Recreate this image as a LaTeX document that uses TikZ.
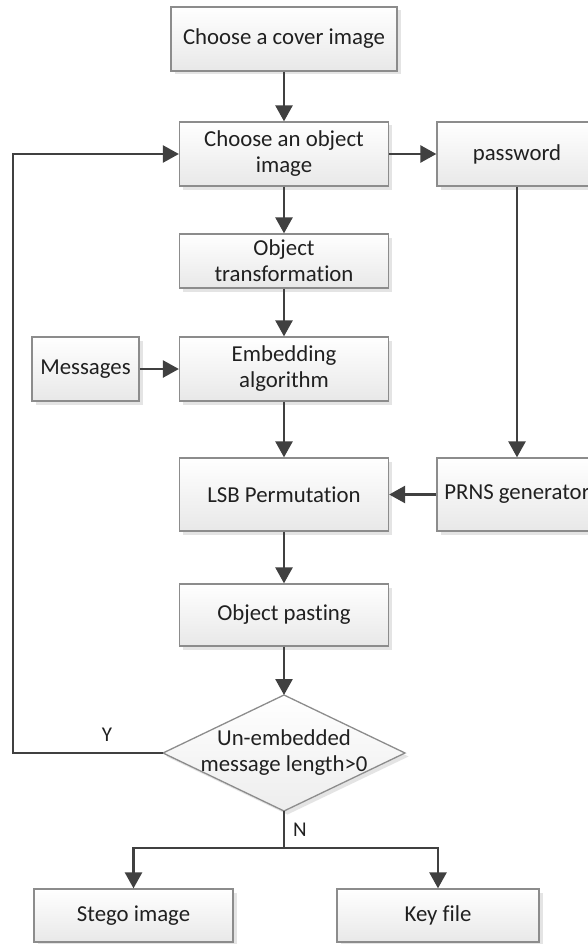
\documentclass[tikz,border=0pt]{standalone}
\usepackage{fontspec}
\setmainfont{Carlito}[Ligatures=NoCommon]
\usetikzlibrary{arrows.meta,shadows}
\definecolor{linec}{HTML}{404040}
\definecolor{boxline}{HTML}{8C8C8C}
\definecolor{txt}{HTML}{202020}
\tikzset{
  flowbox/.style={rectangle, draw=boxline, line width=1.3pt, top color=white, bottom color=black!9,
    inner sep=0pt, align=center, text=txt, font=\fontsize{22.8}{26}\selectfont,
    drop shadow={shadow xshift=3.5pt, shadow yshift=-3.5pt, opacity=0.3, fill=black!35}},
  decshape/.style={draw=boxline, line width=1.3pt, top color=white, bottom color=black!7,
    drop shadow={shadow xshift=3.5pt, shadow yshift=-3.5pt, opacity=0.3, fill=black!35}},
  dectext/.style={align=center, text=txt, font=\fontsize{22.8}{26}\selectfont, inner sep=0pt},
  lab/.style={text=txt, font=\fontsize{21}{24}\selectfont, inner sep=0pt},
  conn/.style={draw=linec, line width=2.6pt, -{Triangle[length=16pt,width=17pt]}},
  plainline/.style={draw=linec, line width=2.6pt},
}
\begin{document}
\begin{tikzpicture}[x=1pt,y=-1pt]
\clip (0,0) rectangle (588,944);
\fill[white] (0,0) rectangle (588,944);

\node[flowbox, minimum width=226pt, minimum height=64pt] (cover) at (284,39) {Choose a cover image};
\node[flowbox, minimum width=209pt, minimum height=64pt] (obj) at (284,154) {Choose an object\\image};
\node[flowbox, minimum width=209pt, minimum height=54pt] (trans) at (284,261) {Object\\transformation};
\node[flowbox, minimum width=209pt, minimum height=64pt] (embed) at (284,369) {Embedding\\algorithm};
\node[flowbox, minimum width=107pt, minimum height=64pt] (msg) at (85.5,369) {Messages};
\node[flowbox, minimum width=160pt, minimum height=64pt] (pwd) at (517,154) {password};
\node[flowbox, minimum width=209pt, minimum height=73pt] (lsb) at (284,494.5) {LSB Permutation};
\node[flowbox, minimum width=160pt, minimum height=73pt] (prns) at (517,494.5) {PRNS generator};
\node[flowbox, minimum width=209pt, minimum height=62pt] (paste) at (284,615) {Object pasting};
\node[flowbox, minimum width=199pt, minimum height=53pt] (stego) at (133.5,915.5) {Stego image};
\node[flowbox, minimum width=202pt, minimum height=53pt] (key) at (438,915.5) {Key file};

\coordinate (dN) at (284,695);
\coordinate (dE) at (405,753);
\coordinate (dS) at (284,811);
\coordinate (dW) at (163,753);
\path[decshape] (dN) -- (dE) -- (dS) -- (dW) -- cycle;
\node[dectext] (dec) at (284,753) {Un-embedded\\message length>0};

\coordinate (loopc) at (13,753);
\coordinate (br) at (284,848);

\draw[conn] (cover) -- (obj);
\draw[conn] (obj) -- (trans);
\draw[conn] (trans) -- (embed);
\draw[conn] (embed) -- (lsb);
\draw[conn] (lsb) -- (paste);
\draw[conn] (paste) -- (dN);
\draw[conn] (msg) -- (embed);
\draw[conn] (obj) -- (pwd);
\draw[conn] (pwd) -- (prns);
\draw[conn] (prns) -- (lsb);
\draw[conn] (dW) -- (loopc) |- (obj.west);
\draw[plainline] (dS) -- (br);
\draw[conn] (br) -| (stego.north);
\draw[conn] (br) -| (key.north);

\node[lab] (ylab) at (107,735) {Y};
\node[lab] (nlab) at (300,830) {N};
\end{tikzpicture}
\end{document}
